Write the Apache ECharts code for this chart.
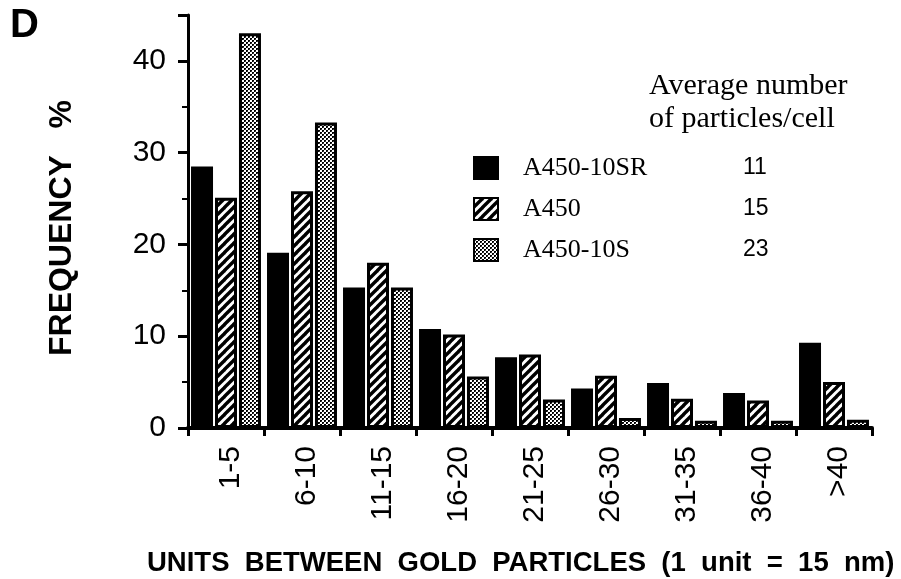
<!DOCTYPE html>
<html>
<head>
<meta charset="utf-8">
<script src="https://cdn.jsdelivr.net/npm/echarts@6/dist/echarts.min.js"></script>
<style>
  html, body { margin: 0; padding: 0; background: #fff; }
  #chart { width: 901px; height: 579px; }
</style>
</head>
<body>
<div id="chart"></div>
<script>
// ---- data ----
const categories = ['1-5', '6-10', '11-15', '16-20', '21-25', '26-30', '31-35', '36-40', '>40'];
const seriesNames = ['A450-10SR', 'A450', 'A450-10S'];
const avgParticles = [11, 15, 23];
const valuesA450_10SR = [28.5, 19.1, 15.3, 10.8, 7.7, 4.3, 4.9, 3.8, 9.3];
const valuesA450 = [25.1, 25.8, 18.0, 10.2, 8.0, 5.7, 3.2, 3.0, 5.0];
const valuesA450_10S = [43.0, 33.3, 15.3, 5.6, 3.1, 1.1, 0.8, 0.8, 0.9];
const yTickValues = [0, 10, 20, 30, 40];

// ---- patterns ----
function hatchPattern() {
  const s = 9;
  const c = document.createElement('canvas');
  c.width = s; c.height = s;
  const g = c.getContext('2d');
  g.fillStyle = '#fff'; g.fillRect(0, 0, s, s);
  g.strokeStyle = '#000'; g.lineWidth = 3.4;
  for (const x0 of [-s, 0, s]) {
    g.beginPath(); g.moveTo(x0 - 1, s + 1); g.lineTo(x0 + s + 1, -1); g.stroke();
  }
  return { image: c, repeat: 'repeat' };
}
function dotPattern() {
  const c = document.createElement('canvas');
  c.width = 4; c.height = 4;
  const g = c.getContext('2d');
  g.fillStyle = '#fff'; g.fillRect(0, 0, 4, 4);
  g.fillStyle = '#000';
  g.fillRect(0, 0, 2, 2); g.fillRect(2, 2, 2, 2);
  g.fillStyle = '#444';
  g.fillRect(1, 1, 1, 1); g.fillRect(3, 3, 1, 1);
  return { image: c, repeat: 'repeat' };
}
const fills = ['#000', hatchPattern(), dotPattern()];
const seriesData = [valuesA450_10SR, valuesA450, valuesA450_10S];

const SANS = '"Liberation Sans", Arial, Helvetica, sans-serif';
const SERIF = '"Liberation Serif", "Times New Roman", serif';

const chart = echarts.init(document.getElementById('chart'), null, { renderer: 'canvas' });

const option = {
  backgroundColor: '#fff',
  animation: false,
  grid: { left: 188, right: 29, top: 15, bottom: 151, containLabel: false },
  legend: {
    orient: 'vertical',
    left: 473,
    top: 155,
    padding: 0,
    icon: 'rect',
    itemWidth: 24,
    itemHeight: 22,
    itemGap: 15,
    selectedMode: false,
    itemStyle: { borderColor: '#000', borderWidth: 2 },
    data: seriesNames,
    formatter: function (name) {
      const i = seriesNames.indexOf(name);
      return '{s|}{n|' + name + '}{v|' + avgParticles[i] + '}';
    },
    textStyle: {
      rich: {
        s: { width: 20, lineHeight: 22 },
        n: { width: 220, fontFamily: SERIF, fontSize: 26, color: '#000', lineHeight: 22 },
        v: { fontFamily: SANS, fontSize: 23, color: '#000', lineHeight: 22 }
      }
    }
  },
  xAxis: {
    type: 'category',
    data: categories,
    boundaryGap: true,
    axisLine: { show: true, lineStyle: { color: '#000', width: 4 } },
    axisTick: { show: true, interval: 0, length: 8, lineStyle: { color: '#000', width: 3 } },
    axisLabel: {
      interval: 0,
      rotate: 90,
      margin: 18,
      fontFamily: SANS,
      fontSize: 30,
      color: '#000',
      verticalAlign: 'top',
      lineHeight: 10
    },
    splitLine: { show: false }
  },
  yAxis: {
    type: 'value',
    min: 0,
    max: 45,
    interval: 10,
    axisLine: { show: true, lineStyle: { color: '#000', width: 3 } },
    axisTick: { show: true, length: 10, lineStyle: { color: '#000', width: 3 } },
    minorTick: { show: true, splitNumber: 2, length: 6, lineStyle: { color: '#000', width: 2 } },
    axisLabel: {
      margin: 22,
      fontFamily: SANS,
      fontSize: 30,
      color: '#000',
      formatter: function (v) { return yTickValues.indexOf(v) >= 0 ? String(v) : ''; }
    },
    splitLine: { show: false }
  },
  series: seriesNames.map(function (name, i) {
    return {
      name: name,
      type: 'bar',
      data: seriesData[i],
      barWidth: 22,
      barGap: '9%',
      itemStyle: { color: fills[i], borderColor: '#000', borderWidth: 3 },
      emphasis: { disabled: true }
    };
  }),
  graphic: [
    { type: 'text', left: 10, top: 6, style: { text: 'D', font: 'bold 40px ' + SANS, fill: '#000' } },
    { type: 'text', x: 62, y: 228, rotation: Math.PI / 2,
      style: { text: 'FREQUENCY   %', font: 'bold 32px ' + SANS, fill: '#000', align: 'center', verticalAlign: 'middle' } },
    { type: 'text', x: 649, y: 86,
      style: { text: 'Average number', font: '30px ' + SERIF, fill: '#000', align: 'left', verticalAlign: 'middle' } },
    { type: 'text', x: 649, y: 119,
      style: { text: 'of particles/cell', font: '30px ' + SERIF, fill: '#000', align: 'left', verticalAlign: 'middle' } },
    { type: 'text', x: 147, y: 563,
      style: { text: 'UNITS  BETWEEN  GOLD  PARTICLES  (1  unit  =  15  nm)', font: 'bold 27.5px ' + SANS, fill: '#000', align: 'left', verticalAlign: 'middle' } }
  ]
};
chart.setOption(option);
</script>
</body>
</html>
